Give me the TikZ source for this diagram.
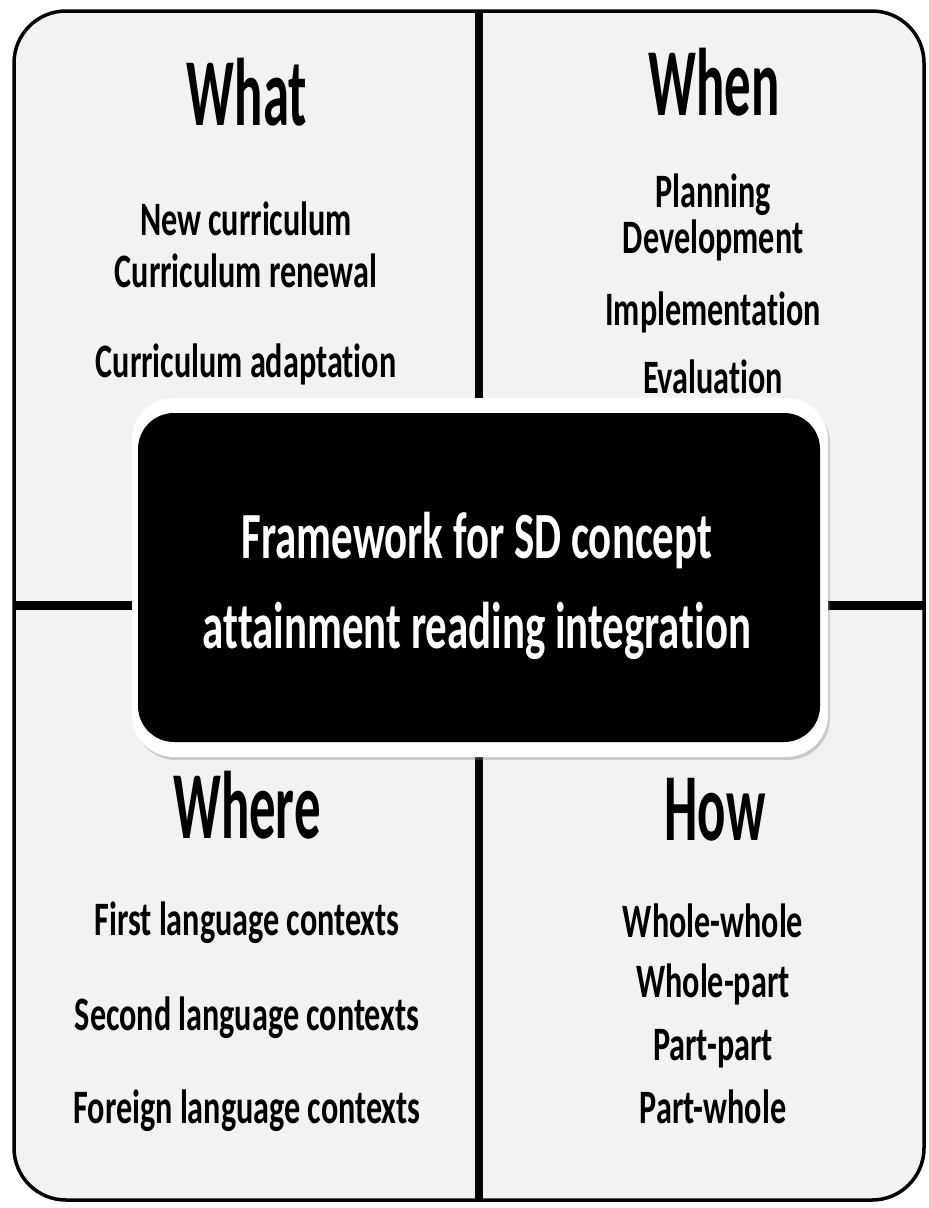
\documentclass[tikz,border=0pt]{standalone}
\usepackage{fontspec}
\setmainfont{Carlito}
\newfontfamily\headfont{Carlito}[FakeStretch=0.55, Ligatures=NoCommon]
\newfontfamily\entryfont{Carlito}[FakeStretch=0.67, Ligatures=NoCommon]
\newfontfamily\corefont{Carlito}[FakeStretch=0.65, Ligatures=NoCommon]
\usetikzlibrary{shadows}
\definecolor{panelgray}{HTML}{F2F2F2}

\begin{document}
\begin{tikzpicture}[x=1pt, y=-1pt,
    quadhead/.style={anchor=base, inner sep=0pt, font=\headfont\bfseries\fontsize{96}{96}\selectfont},
    entry/.style={anchor=base, inner sep=0pt, font=\entryfont\bfseries\fontsize{48}{48}\selectfont},
    coretext/.style={anchor=base, inner sep=0pt, text=white, font=\corefont\bfseries\fontsize{66}{66}\selectfont}]

    \useasboundingbox (0,0) rectangle (929,1208);

    % Outer frame
    \draw[fill=panelgray, line width=3.5pt, rounded corners=52pt] (14,11) rectangle (924,1200);

    % Dividers
    \draw[line width=8pt] (479,11) -- (479,1200);
    \draw[line width=9pt] (14,605) -- (924,605);

    % Centre box with white rim
    \fill[white, rounded corners=42pt, drop shadow={shadow xshift=2pt, shadow yshift=-3pt, opacity=0.35}] (132,398) rectangle (828,757);
    \node[fill=black, rounded corners=36pt, minimum width=682pt, minimum height=329pt, inner sep=0pt] (core) at (479,577.5) {};
    \node[coretext] (core1) at (477,558) {Framework for SD concept};
    \node[coretext] (core2) at (477,648) {attainment reading integration};

    % What
    \node[quadhead] (what) at (247,125) {What};
    \node[entry] (what1) at (246,235) {New curriculum};
    \node[entry] (what2) at (246,287) {Curriculum renewal};
    \node[entry] (what3) at (246,377) {Curriculum adaptation};

    % When
    \node[quadhead] (when) at (714,115) {When};
    \node[entry] (when1) at (713,207) {Planning};
    \node[entry] (when2) at (713,253) {Development};
    \node[entry] (when3) at (713,325) {Implementation};
    \node[entry] (when4) at (713,393) {Evaluation};

    % Where
    \node[quadhead] (where) at (247,838) {Where};
    \node[entry] (where1) at (247,935) {First language contexts};
    \node[entry] (where2) at (247,1030) {Second language contexts};
    \node[entry] (where3) at (247,1123) {Foreign language contexts};

    % How
    \node[quadhead] (how) at (715,840) {How};
    \node[entry] (how1) at (713,937) {Whole-whole};
    \node[entry] (how2) at (713,997) {Whole-part};
    \node[entry] (how3) at (713,1060) {Part-part};
    \node[entry] (how4) at (713,1123) {Part-whole};

\end{tikzpicture}
\end{document}
